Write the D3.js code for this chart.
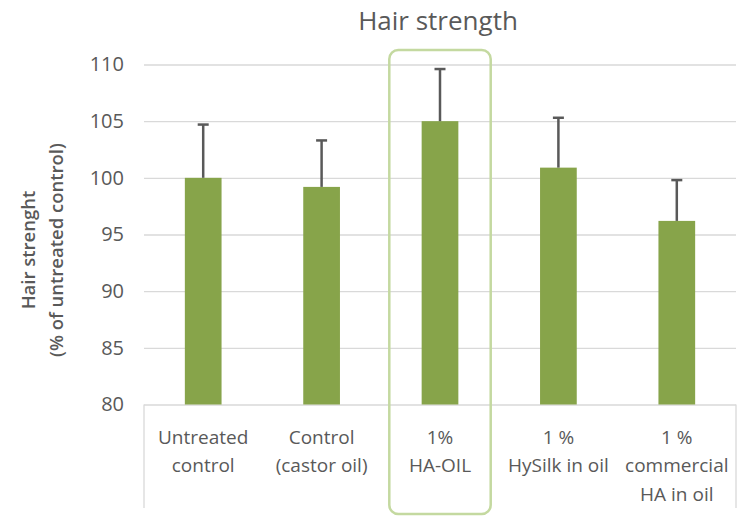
<!DOCTYPE html>
<html>
<head>
<meta charset="utf-8">
<script src="https://cdn.jsdelivr.net/npm/d3@7"></script>
<style>
  body { margin: 0; background: #fff; }
  text { font-family: "Open Sans", sans-serif; fill: #595959; }
</style>
</head>
<body>
<script>
var categories = [
  ["Untreated", "control"],
  ["Control", "(castor oil)"],
  ["1%", "HA-OIL"],
  ["1 %", "HySilk in oil"],
  ["1 %", "commercial", "HA in oil"]
];
var values = [100, 99.2, 105, 100.9, 96.2];
var errorTops = [104.7, 103.3, 109.6, 105.3, 99.8];
var yTicks = [80, 85, 90, 95, 100, 105, 110];
var highlighted = 2;

var width = 741, height = 516;
var margin = {top: 64.5, right: 5, bottom: 111.5, left: 144};

var svg = d3.select("body").append("svg")
  .attr("width", width)
  .attr("height", height);

var x = d3.scaleBand()
  .domain(d3.range(categories.length))
  .range([margin.left, width - margin.right]);

var y = d3.scaleLinear()
  .domain([80, 110])
  .range([height - margin.bottom, margin.top]);

// gridlines + tick labels
var yAxis = svg.append("g")
  .attr("transform", "translate(" + margin.left + ",0)")
  .call(d3.axisLeft(y).tickValues(yTicks).tickSize(-(width - margin.left - margin.right)).tickPadding(20));
yAxis.select(".domain").remove();
yAxis.selectAll(".tick line").attr("stroke", "#d9d9d9").attr("stroke-width", 1.3);
yAxis.selectAll(".tick text")
  .style("font-size", "20px")
  .attr("fill", "#595959");

// category frame lines
svg.append("line")
  .attr("x1", margin.left).attr("x2", margin.left)
  .attr("y1", y(80)).attr("y2", 508)
  .attr("stroke", "#d9d9d9").attr("stroke-width", 1.3);
svg.append("line")
  .attr("x1", width - margin.right).attr("x2", width - margin.right)
  .attr("y1", y(80)).attr("y2", 508)
  .attr("stroke", "#d9d9d9").attr("stroke-width", 1.3);

var barW = x.bandwidth() * 0.31;

svg.selectAll(".bar")
  .data(values)
  .enter().append("rect")
  .attr("class", "bar")
  .attr("x", function(d, i) { return x(i) + x.bandwidth() / 2 - barW / 2; })
  .attr("y", function(d) { return y(d); })
  .attr("width", barW)
  .attr("height", function(d) { return y(80) - y(d); })
  .attr("fill", "#87a44a");

// error bars (upper only)
var err = svg.selectAll(".err")
  .data(values)
  .enter().append("g")
  .attr("class", "err")
  .attr("stroke", "#595959")
  .attr("stroke-width", 2.5);
err.append("line")
  .attr("x1", function(d, i) { return x(i) + x.bandwidth() / 2; })
  .attr("x2", function(d, i) { return x(i) + x.bandwidth() / 2; })
  .attr("y1", function(d) { return y(d); })
  .attr("y2", function(d, i) { return y(errorTops[i]); });
err.append("line")
  .attr("x1", function(d, i) { return x(i) + x.bandwidth() / 2 - 5.5; })
  .attr("x2", function(d, i) { return x(i) + x.bandwidth() / 2 + 5.5; })
  .attr("y1", function(d, i) { return y(errorTops[i]); })
  .attr("y2", function(d, i) { return y(errorTops[i]); });

// category labels
var lab = svg.selectAll(".cat")
  .data(categories)
  .enter().append("text")
  .attr("class", "cat")
  .attr("text-anchor", "middle")
  .style("font-size", "19px");
lab.selectAll("tspan")
  .data(function(d, i) { return d.map(function(s) { return {s: s, i: i}; }); })
  .enter().append("tspan")
  .attr("x", function(d) { return x(d.i) + x.bandwidth() / 2; })
  .attr("y", function(d, j) { return 443.5 + j * 28.5; })
  .text(function(d) { return d.s; });

// highlight box
svg.append("rect")
  .attr("x", x(highlighted) + 8.5)
  .attr("y", 50)
  .attr("width", x.bandwidth() - 17)
  .attr("height", 464)
  .attr("rx", 9)
  .attr("fill", "none")
  .attr("stroke", "#c4d9a0")
  .attr("stroke-width", 2.5);

// title
svg.append("text")
  .attr("x", 438)
  .attr("y", 29.5)
  .attr("text-anchor", "middle")
  .style("font-size", "26px")
  .text("Hair strength");

// y label
var yl = svg.append("text")
  .attr("transform", "translate(0," + 250 + ") rotate(-90)")
  .attr("text-anchor", "middle")
  .style("font-size", "18.5px")
  .style("font-weight", "600");
yl.append("tspan").attr("x", 0).attr("y", 35).text("Hair strenght");
yl.append("tspan").attr("x", 0).attr("y", 63).text("(% of untreated control)");
</script>
</body>
</html>
